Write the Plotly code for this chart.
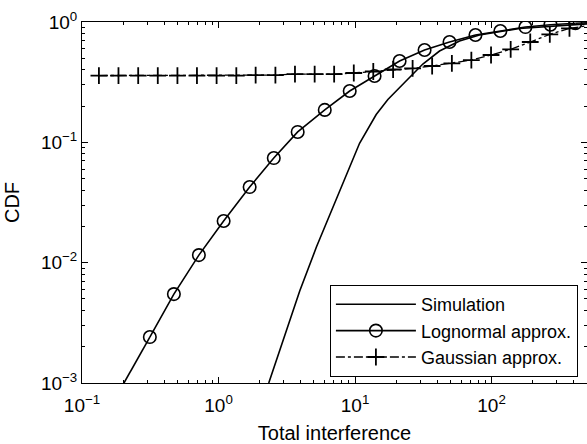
import plotly.graph_objects as go

# ---- data ----
sim_x = [2.333, 2.970, 3.933, 5.212, 7.700, 10.79, 14.29, 17.40, 23.06, 31.38, 41.58, 58.25, 81.54, 160.0, 500]
sim_y = [0.001, 0.002275, 0.005807, 0.01348, 0.03974, 0.0982, 0.1703, 0.2268, 0.3142, 0.4477, 0.5741,
         0.6951, 0.7797, 0.883, 0.965]

logn_x = [0.314, 0.471, 0.718, 1.09, 1.69, 2.54, 3.80, 6.00, 9.14, 13.9, 21.2, 32.3, 49.2, 76.2, 116, 177, 270, 411]
logn_y = [0.00241, 0.00548, 0.01156, 0.0222, 0.0425, 0.074, 0.122, 0.186, 0.267, 0.356, 0.474, 0.585, 0.682,
          0.780, 0.842, 0.908, 0.95, 0.975]
logn_ext_x = [0.203, 0.314, None, 411, 500]
logn_ext_y = [0.001, 0.00241, None, 0.975, 0.985]

gauss_x = [0.133, 0.185, 0.258, 0.359, 0.500, 0.695, 0.968, 1.35, 1.87, 2.61, 3.63, 5.06, 7.03,
           9.79, 13.6, 19.0, 26.4, 36.7, 51.2, 71.1, 99.1, 138, 192, 267, 372]
gauss_y = [0.359, 0.359, 0.359, 0.359, 0.359, 0.359, 0.359, 0.359, 0.3625, 0.3625, 0.369, 0.369, 0.369,
           0.377, 0.388, 0.403, 0.411, 0.431, 0.4535, 0.483, 0.532, 0.593, 0.682, 0.790, 0.886]
gauss_ext_x = [372, 500]
gauss_ext_y = [0.886, 0.93]

x_tickvals = [0.1, 1, 10, 100]
x_ticktext = ["10<sup>\u22121</sup>", "10<sup>0</sup>", "10<sup>1</sup>", "10<sup>2</sup>"]
y_tickvals = [0.001, 0.01, 0.1, 1]
y_ticktext = ["10<sup>\u22123</sup>", "10<sup>\u22122</sup>", "10<sup>\u22121</sup>", "10<sup>0</sup>"]

x_minor = [m * 10 ** e for e in range(-1, 3) for m in range(2, 10) if m * 10 ** e <= 500]
y_minor = [m * 10 ** e for e in range(-3, 0) for m in range(2, 10)]

FONT = "Liberation Sans, Arial, Helvetica, sans-serif"
LW = 1.6

fig = go.Figure()
fig.add_trace(go.Scatter(x=sim_x, y=sim_y, mode="lines", name="Simulation",
                         line=dict(color="black", width=LW)))
fig.add_trace(go.Scatter(x=logn_x, y=logn_y, mode="lines+markers", name="Lognormal approx.",
                         line=dict(color="black", width=LW),
                         marker=dict(symbol="circle-open", size=12.5, color="black",
                                     line=dict(width=1.6, color="black"))))
fig.add_trace(go.Scatter(x=logn_ext_x, y=logn_ext_y, mode="lines", showlegend=False,
                         line=dict(color="black", width=LW)))
fig.add_trace(go.Scatter(x=gauss_x, y=gauss_y, mode="lines+markers", name="Gaussian approx.",
                         line=dict(color="black", width=1.3, dash="dashdot"),
                         marker=dict(symbol="cross-thin-open", size=12, color="black",
                                     line=dict(width=1.8, color="black"))))
fig.add_trace(go.Scatter(x=gauss_ext_x, y=gauss_ext_y, mode="lines", showlegend=False,
                         line=dict(color="black", width=1.3, dash="dashdot")))

axis_common = dict(type="log", showline=True, linecolor="black", linewidth=1, mirror="allticks",
                   ticks="inside", ticklen=6, tickcolor="black", tickwidth=1,
                   showgrid=False, zeroline=False, automargin=False,
                   tickfont=dict(family=FONT, size=19, color="black"))

fig.update_xaxes(**axis_common, range=[-1, 2.69897], tickvals=x_tickvals, ticktext=x_ticktext,
                 ticklabelstandoff=5,
                 minor=dict(tickvals=x_minor, ticks="inside", ticklen=3, tickcolor="black", showgrid=False),
                 title=dict(text="Total interference", font=dict(family=FONT, size=20, color="black"), standoff=12))
fig.update_yaxes(**axis_common, range=[-3, 0], tickvals=y_tickvals, ticktext=y_ticktext,
                 minor=dict(tickvals=y_minor, ticks="inside", ticklen=3, tickcolor="black", showgrid=False),
                 title=dict(text="CDF", font=dict(family=FONT, size=20, color="black"), standoff=15))

fig.update_layout(
    width=587, height=444,
    margin=dict(l=82, r=0, t=22, b=61, autoexpand=False),
    paper_bgcolor="white", plot_bgcolor="white",
    font=dict(family=FONT, color="black"),
    legend=dict(x=0.982, y=0.2715, xanchor="right", yanchor="top",
                bgcolor="white", bordercolor="black", borderwidth=1,
                font=dict(family=FONT, size=18, color="black"),
                itemwidth=80),
    showlegend=True,
)

fig.write_html("out.html", config={"displayModeBar": False},
               post_script="document.body.style.margin='0';document.body.style.overflow='hidden';")
